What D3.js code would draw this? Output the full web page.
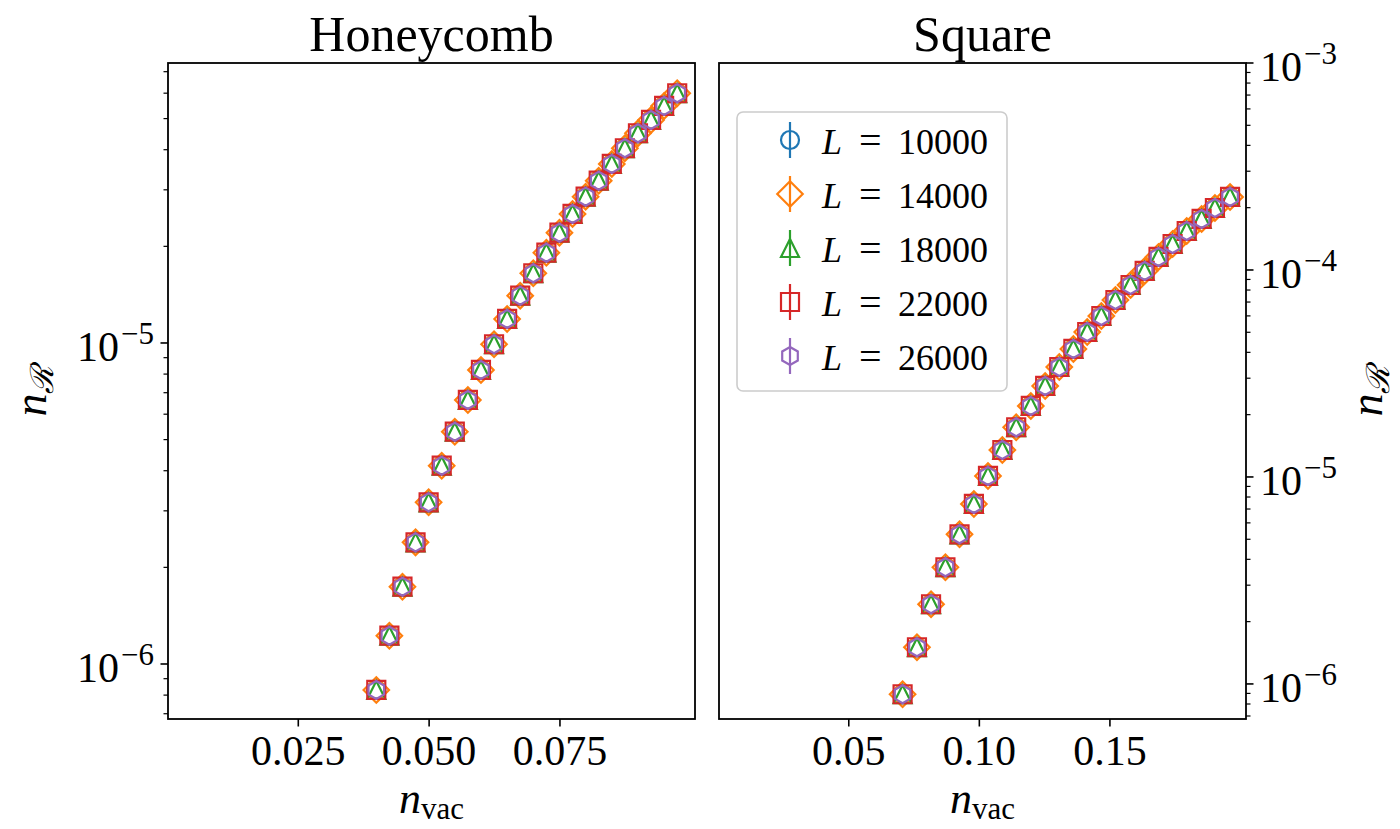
<!DOCTYPE html>
<html>
<head>
<meta charset="utf-8">
<script src="https://cdn.jsdelivr.net/npm/d3@7"></script>
<style>
  body { margin: 0; background: #fff; }
  svg text { font-family: "Liberation Serif", "DejaVu Serif", serif; fill: #000; }
</style>
</head>
<body>
<div id="vis-parent"></div>
<script>
// Series (system sizes) and their marker shapes
var sizes = [10000, 14000, 18000, 22000, 26000];
var seriesColors = ['#1f77b4', '#ff7f0e', '#2ca02c', '#d62728', '#9467bd'];
var seriesShapes = ['circle', 'diamond', 'triangle', 'square', 'hexagon'];

// Honeycomb lattice: vacancy density vs n_R (all L coincide)
var honeyVac = [0.0400, 0.0425, 0.0450, 0.0475, 0.0500, 0.0525, 0.0550, 0.0575,
                0.0600, 0.0625, 0.0650, 0.0675, 0.0700, 0.0725, 0.0750, 0.0775,
                0.0800, 0.0825, 0.0850, 0.0875, 0.0900, 0.0925, 0.0950, 0.0975];
var honeyN = [8.30e-7, 1.225e-6, 1.741e-6, 2.393e-6, 3.189e-6, 4.147e-6, 5.292e-6, 6.645e-6,
              8.241e-6, 9.91e-6, 1.188e-5, 1.404e-5, 1.649e-5, 1.911e-5, 2.206e-5, 2.523e-5,
              2.856e-5, 3.203e-5, 3.611e-5, 4.042e-5, 4.501e-5, 4.951e-5, 5.474e-5, 5.997e-5];

// Square lattice
var squareVac = [0.0708, 0.0763, 0.0817, 0.0872, 0.0926, 0.0981, 0.1035, 0.1090,
                 0.1143, 0.1199, 0.1254, 0.1308, 0.1362, 0.1415, 0.1469, 0.1523,
                 0.1581, 0.1635, 0.1688, 0.1742, 0.1796, 0.1853, 0.1904, 0.1962];
var squareN = [8.917e-7, 1.504e-6, 2.427e-6, 3.663e-6, 5.284e-6, 7.406e-6, 1.011e-5, 1.350e-5,
               1.738e-5, 2.203e-5, 2.752e-5, 3.399e-5, 4.153e-5, 5.017e-5, 5.993e-5, 7.160e-5,
               8.463e-5, 9.89e-5, 1.156e-4, 1.335e-4, 1.543e-4, 1.764e-4, 1.993e-4, 2.253e-4];

// Tick labels
var honeyXTicks = [0.025, 0.050, 0.075];
var honeyXLabels = ['0.025', '0.050', '0.075'];
var squareXTicks = [0.05, 0.10, 0.15];
var squareXLabels = ['0.05', '0.10', '0.15'];
var honeyYTicks = [1e-6, 1e-5];
var squareYTicks = [1e-6, 1e-5, 1e-4, 1e-3];

// Page size
var width = 1400, height = 829;
var plotTop = 63, plotBottom = 719;

var svg = d3.select('#vis-parent').append('svg')
  .attr('width', width)
  .attr('height', height);

function translate(x, y) { return 'translate(' + x + ',' + y + ')'; }

// Marker path of a given shape, size ms (matplotlib style)
function markerPath(shape, ms) {
  var p = d3.path(), r = ms / 2, i, a;
  if (shape == 'circle') {
    p.arc(0, 0, r, 0, 2 * Math.PI);
  } else if (shape == 'diamond') {
    var d = r * Math.SQRT2;
    p.moveTo(0, -d); p.lineTo(d, 0); p.lineTo(0, d); p.lineTo(-d, 0); p.closePath();
  } else if (shape == 'triangle') {
    p.moveTo(0, -r); p.lineTo(r, r); p.lineTo(-r, r); p.closePath();
  } else if (shape == 'square') {
    p.rect(-r, -r, ms, ms);
  } else {
    for (i = 0; i < 6; i++) {
      a = -Math.PI / 2 + i * Math.PI / 3;
      if (i == 0) p.moveTo(r * Math.cos(a), r * Math.sin(a));
      else p.lineTo(r * Math.cos(a), r * Math.sin(a));
    }
    p.closePath();
  }
  return p.toString();
}

// Power of ten label as "10" + superscript
function powerLabel(sel, v) {
  var e = Math.round(Math.log10(v));
  sel.append('tspan').text('10');
  sel.append('tspan')
    .attr('dy', -17)
    .attr('dx', 2)
    .style('font-size', '31px')
    .text('\u2212' + Math.abs(e));
}

function addPanel(opts) {
  var left = opts.left, right = opts.right;

  // Scales
  var x = d3.scaleLinear().domain(opts.xDomain).range([left, right]);
  var y = d3.scaleLog().domain(opts.yDomain).range([plotBottom, plotTop]);

  var g = svg.append('g');

  // Clip
  g.append('clipPath').attr('id', opts.id + '-clip')
    .append('rect')
      .attr('x', left).attr('y', plotTop)
      .attr('width', right - left).attr('height', plotBottom - plotTop);

  // Data points, series drawn in order so the last one ends up on top
  var points = opts.xs.map(function(v, i) { return { x: v, y: opts.ys[i] }; });
  var marks = g.append('g').attr('clip-path', 'url(#' + opts.id + '-clip)');
  sizes.forEach(function(L, s) {
    marks.append('g')
      .selectAll('path')
      .data(points).enter()
      .append('path')
        .attr('d', markerPath(seriesShapes[s], 18))
        .attr('transform', function(d) { return translate(x(d.x), y(d.y)); })
        .attr('fill', 'none')
        .attr('stroke', seriesColors[s])
        .attr('stroke-width', 2.2)
        .attr('stroke-linejoin', 'miter');
  });

  // Frame
  g.append('rect')
    .attr('x', left).attr('y', plotTop)
    .attr('width', right - left).attr('height', plotBottom - plotTop)
    .attr('fill', 'none')
    .attr('stroke', '#000')
    .attr('stroke-width', 1.8);

  // X axis
  var xAxis = g.append('g')
    .attr('transform', translate(0, plotBottom))
    .call(d3.axisBottom(x).tickValues(opts.xTicks).tickSize(7.5)
      .tickFormat(function(d, i) { return opts.xLabels[i]; }));
  xAxis.select('.domain').remove();
  xAxis.selectAll('.tick line').attr('stroke-width', 1.6);
  xAxis.selectAll('.tick text')
    .attr('y', 46)
    .attr('dy', 0)
    .style('font-size', '42px')
    .style('font-family', '"Liberation Serif", serif');

  // Y axis with log minor ticks
  var yLeft = opts.ySide == 'left';
  var axisX = yLeft ? left : right;
  var dir = yLeft ? -1 : 1;
  var lo = Math.floor(Math.log10(opts.yDomain[0])), hi = Math.ceil(Math.log10(opts.yDomain[1]));
  var minor = [];
  for (var e = lo; e <= hi; e++) {
    for (var m = 2; m <= 9; m++) {
      var v = m * Math.pow(10, e);
      if (v >= opts.yDomain[0] && v <= opts.yDomain[1]) minor.push(v);
    }
  }
  var yAxis = g.append('g');
  yAxis.selectAll('.minor')
    .data(minor).enter()
    .append('line')
      .attr('x1', axisX).attr('x2', axisX + dir * 4.5)
      .attr('y1', function(d) { return y(d); })
      .attr('y2', function(d) { return y(d); })
      .attr('stroke', '#000').attr('stroke-width', 1.2);
  yAxis.selectAll('.major')
    .data(opts.yTicks).enter()
    .append('line')
      .attr('x1', axisX).attr('x2', axisX + dir * 7.5)
      .attr('y1', function(d) { return y(d); })
      .attr('y2', function(d) { return y(d); })
      .attr('stroke', '#000').attr('stroke-width', 1.6);
  yAxis.selectAll('.ylab')
    .data(opts.yTicks).enter()
    .append('text')
      .attr('x', axisX + dir * 14)
      .attr('y', function(d) { return y(d) + 18; })
      .attr('text-anchor', yLeft ? 'end' : 'start')
      .style('font-size', '42px')
      .each(function(d) { powerLabel(d3.select(this), d); });

  // Title
  g.append('text')
    .attr('x', (left + right) / 2)
    .attr('y', 51)
    .attr('text-anchor', 'middle')
    .style('font-size', '50px')
    .text(opts.title);

  // X label: n_vac
  var xl = g.append('text')
    .attr('x', (left + right) / 2)
    .attr('y', 813)
    .attr('text-anchor', 'middle')
    .style('font-size', '44px');
  xl.append('tspan').style('font-style', 'italic').text('n');
  xl.append('tspan').attr('dy', 6).style('font-size', '31px').text('vac');

  // Y label: n_R
  var lx = yLeft ? 46 : 1382;
  var yl = g.append('text')
    .attr('transform', translate(lx, (plotTop + plotBottom) / 2) + ' rotate(-90)')
    .attr('text-anchor', 'middle')
    .style('font-size', '46px');
  yl.append('tspan').style('font-style', 'italic').text('n');
  yl.append('tspan').attr('dy', 7).style('font-size', '32px')
    .style('font-family', '"DejaVu Serif", serif').style('font-style', 'italic').text('\u211B');

  return g;
}

addPanel({
  id: 'honey', title: 'Honeycomb', left: 168, right: 695,
  xDomain: [0.0002, 0.1009], yDomain: [6.74e-7, 7.45e-5],
  xs: honeyVac, ys: honeyN,
  xTicks: honeyXTicks, xLabels: honeyXLabels,
  yTicks: honeyYTicks, ySide: 'left'
});

var square = addPanel({
  id: 'square', title: 'Square', left: 719, right: 1246,
  xDomain: [0.0005, 0.2023], yDomain: [6.77e-7, 1e-3],
  xs: squareVac, ys: squareN,
  xTicks: squareXTicks, xLabels: squareXLabels,
  yTicks: squareYTicks, ySide: 'right'
});

// Legend
var legend = square.append('g');
legend.append('rect')
  .attr('x', 737).attr('y', 112)
  .attr('width', 270).attr('height', 279)
  .attr('rx', 6)
  .attr('fill', '#fff').attr('fill-opacity', 0.8)
  .attr('stroke', '#cccccc').attr('stroke-width', 1.6);

var rows = legend.selectAll('.entry')
  .data(sizes).enter()
  .append('g')
    .attr('class', 'entry')
    .attr('transform', function(d, i) { return translate(790, 140 + i * 54); });

rows.append('line')
  .attr('x1', 0).attr('x2', 0).attr('y1', -18).attr('y2', 18)
  .attr('stroke', function(d, i) { return seriesColors[i]; })
  .attr('stroke-width', 2.2);

rows.append('path')
  .attr('d', function(d, i) { return markerPath(seriesShapes[i], 18); })
  .attr('fill', 'none')
  .attr('stroke', function(d, i) { return seriesColors[i]; })
  .attr('stroke-width', 2.2);

// "L = value" with math-like spacing
var labels = rows.append('text')
  .attr('y', 14)
  .style('font-size', '36px');
labels.append('tspan').attr('x', 32).style('font-style', 'italic').text('L');
labels.append('tspan').attr('x', 69).style('font-size', '40px').text('=');
labels.append('tspan').attr('x', 108).text(function(d) { return d; });
</script>
</body>
</html>
